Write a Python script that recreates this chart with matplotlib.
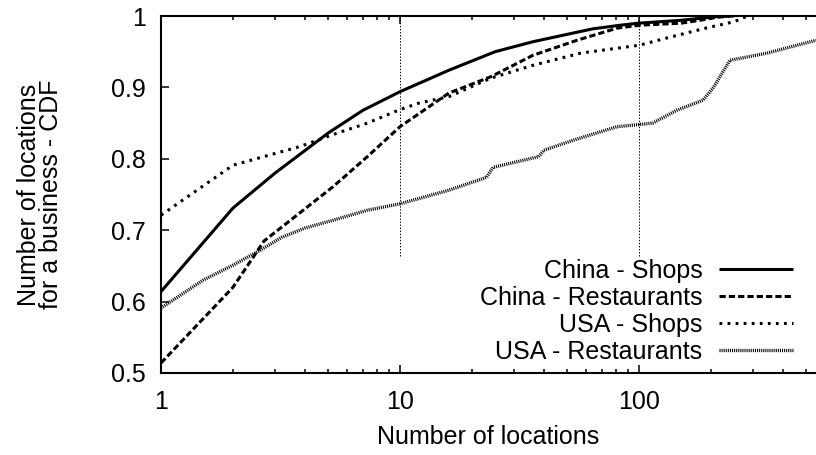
import matplotlib
matplotlib.use("Agg")
import matplotlib.pyplot as plt
from matplotlib.ticker import LogLocator, FixedLocator, NullFormatter, FuncFormatter

plt.rcParams["font.family"] = ["Liberation Sans", "DejaVu Sans"]
plt.rcParams["lines.scale_dashes"] = False

# CDF of number of locations per business
china_shops_x = [1, 2, 3, 5, 7, 10, 16, 25, 36, 48, 64, 83, 100, 150, 210, 250]
china_shops_y = [0.614, 0.731, 0.780, 0.836, 0.868, 0.894, 0.924, 0.950, 0.964,
                 0.973, 0.982, 0.987, 0.990, 0.994, 0.999, 1.0]

china_rest_x = [1, 2, 2.7, 3.8, 5.25, 7.3, 10, 16, 24, 36, 55, 81, 100, 150, 180, 210, 240]
china_rest_y = [0.514, 0.620, 0.685, 0.724, 0.761, 0.803, 0.845, 0.892, 0.915, 0.945,
                0.966, 0.983, 0.987, 0.990, 0.994, 0.998, 1.0]

usa_shops_x = [1, 2, 3.8, 5.25, 7.3, 10, 12, 16, 24, 36, 57, 100, 130, 190, 250, 280]
usa_shops_y = [0.721, 0.791, 0.817, 0.834, 0.850, 0.869, 0.878, 0.887, 0.913, 0.931,
               0.948, 0.959, 0.969, 0.983, 0.992, 0.999]

usa_rest_x = [1, 1.5, 2, 2.6, 3.2, 4, 5.25, 7.3, 10, 16, 23, 24.5, 38, 40, 53, 81,
              100, 114, 144, 185, 205, 218, 240, 343, 550]
usa_rest_y = [0.591, 0.630, 0.651, 0.672, 0.690, 0.703, 0.714, 0.728, 0.737, 0.756,
              0.774, 0.788, 0.803, 0.812, 0.826, 0.845, 0.848, 0.850, 0.868, 0.882,
              0.900, 0.915, 0.938, 0.948, 0.966]

series_labels = ["China - Shops", "China - Restaurants", "USA - Shops", "USA - Restaurants"]
x_ticks = [1, 10, 100]
x_tick_labels = ["1", "10", "100"]
y_ticks = [0.5, 0.6, 0.7, 0.8, 0.9, 1.0]
y_tick_labels = ["0.5", "0.6", "0.7", "0.8", "0.9", "1"]

FS = 18

fig = plt.figure(figsize=(8.16, 4.55), dpi=100)
ax = fig.add_axes([161 / 816, 82 / 455, 1 - 161 / 816, 357 / 455])

ax.set_xscale("log")
ax.set_xlim(1, 550)
ax.set_ylim(0.5, 1.0)

# vertical grid at decades
for gx in [10, 100]:
    ax.axvline(gx, ymin=0.328, ymax=1.0, color="black", lw=0.7,
               linestyle=(0, (1, 1.2)), zorder=1)

lw = 2.2
ax.plot(china_shops_x, china_shops_y, color="black", lw=lw,
        solid_capstyle="butt", label=series_labels[0], zorder=3)
ax.plot(china_rest_x, china_rest_y, color="black", lw=lw,
        dashes=(4.5, 2.2), dash_capstyle="butt", label=series_labels[1], zorder=3)
ax.plot(usa_shops_x, usa_shops_y, color="black", lw=lw,
        dashes=(2.0, 3.8), dash_capstyle="butt", label=series_labels[2], zorder=3)
ax.plot(usa_rest_x, usa_rest_y, color="black", lw=2.4,
        dashes=(0.75, 0.75), dash_capstyle="butt", label=series_labels[3], zorder=3)

ax.xaxis.set_major_locator(FixedLocator(x_ticks))
ax.xaxis.set_major_formatter(FuncFormatter(
    lambda v, p: x_tick_labels[x_ticks.index(round(v))] if round(v) in x_ticks else ""))
ax.xaxis.set_minor_locator(LogLocator(base=10, subs=range(2, 10), numticks=20))
ax.xaxis.set_minor_formatter(NullFormatter())
ax.yaxis.set_major_locator(FixedLocator(y_ticks))
ax.set_yticklabels(y_tick_labels)

ax.tick_params(axis="both", which="both", direction="in", top=True, right=False,
               labelsize=FS, width=1.1)
ax.tick_params(axis="both", which="major", length=6)
ax.tick_params(axis="both", which="minor", length=3)
ax.tick_params(axis="x", which="major", pad=12)
ax.tick_params(axis="y", which="major", pad=11)

for side in ["left", "bottom", "top"]:
    ax.spines[side].set_linewidth(1.5)
ax.spines["right"].set_visible(False)

fig.text(488 / 816, (455 - 444) / 455, "Number of locations", ha="center",
         va="baseline", fontsize=FS)
fig.text(40 / 816, 1 - 194.5 / 455, "Number of locations\nfor a business - CDF",
         rotation=90, ha="center", va="center", multialignment="center",
         fontsize=FS, linespacing=0.92)

leg = ax.legend(loc="lower right", bbox_to_anchor=(793 / 816, (455 - 364) / 455),
                bbox_transform=fig.transFigure, frameon=False, fontsize=FS,
                markerfirst=False, handlelength=2.95, handletextpad=0.68,
                labelspacing=0.12, borderpad=0, borderaxespad=0)

fig.savefig("out.png", dpi=100)
